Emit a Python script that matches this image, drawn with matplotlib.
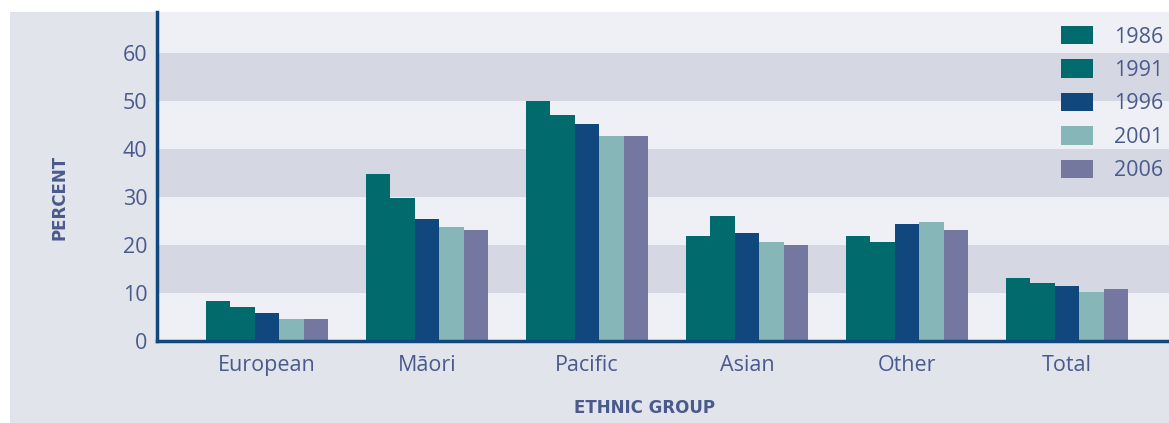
import numpy as np
import matplotlib
matplotlib.use('Agg')
import matplotlib.pyplot as plt
from matplotlib.patches import Rectangle

groups = ['European', 'Māori', 'Pacific', 'Asian', 'Other', 'Total']
years = ['1986', '1991', '1996', '2001', '2006']
v1986 = [8.3, 34.8, 50.0, 21.9, 21.9, 13.1]
v1991 = [7.1, 29.8, 47.1, 26.0, 20.6, 12.1]
v1996 = [5.8, 25.4, 45.2, 22.5, 24.4, 11.5]
v2001 = [4.6, 23.7, 42.7, 20.6, 24.8, 10.2]
v2006 = [4.6, 23.1, 42.7, 20.0, 23.1, 10.8]
series = [v1986, v1991, v1996, v2001, v2006]
colors = ['#006a6c', '#006a6c', '#10487e', '#86b6b8', '#7477a0']

text_color = '#4a5a8c'
plt.rcParams['font.family'] = ['Open Sans', 'DejaVu Sans']

fig = plt.figure(figsize=(11.69, 4.23), dpi=100, facecolor='white')
# grey-blue panel behind the chart
fig.patches.append(Rectangle((10 / 1169, 0), 1 - 10 / 1169, 1 - 12 / 423,
                             transform=fig.transFigure, facecolor='#e2e4ec',
                             edgecolor='none', zorder=-5))

ax = fig.add_axes([157 / 1169, (423 - 341) / 423, (1169 - 157) / 1169, (341 - 12) / 423])
ax.set_facecolor('#eef0f5')
ax.set_xlim(-0.6875, 5.6375)
ax.set_ylim(0, 68.5)

# alternating bands
for lo in (10, 30, 50):
    ax.axhspan(lo, lo + 10, color='#d5d7e3', zorder=0, lw=0)

x = np.arange(len(groups))
w = 0.1525
for i, (vals, c, yr) in enumerate(zip(series, colors, years)):
    ax.bar(x + (i - 2) * w, vals, width=w, color=c, label=yr, zorder=2, linewidth=0)

ax.set_xticks(x)
ax.set_xticklabels(groups)
ax.set_yticks(np.arange(0, 61, 10))
ax.tick_params(length=0, labelsize=15.5, colors=text_color)
ax.tick_params(axis='y', pad=7)
ax.tick_params(axis='x', pad=10)

for s in ('top', 'right'):
    ax.spines[s].set_visible(False)
for s in ('left', 'bottom'):
    ax.spines[s].set_color('#10487e')
    ax.spines[s].set_linewidth(2.5)

fig.text(60 / 1169, 1 - 197 / 423, 'PERCENT', rotation=90, ha='center', va='center',
         fontsize=12, fontweight='bold', family='DejaVu Sans', color=text_color)
fig.text(645 / 1169, 1 - 408 / 423, 'ETHNIC GROUP', ha='center', va='center',
         fontsize=12, fontweight='bold', family='DejaVu Sans', color=text_color)

leg = ax.legend(loc='upper right', bbox_to_anchor=(1.0, 1.0 - 8 / 329), frameon=False,
                fontsize=15.5, handlelength=1.5, handleheight=0.93,
                labelspacing=0.55, handletextpad=0.95, borderpad=0, borderaxespad=0.28)
for t in leg.get_texts():
    t.set_color(text_color)

plt.savefig('out.png', dpi=100, facecolor='white')
